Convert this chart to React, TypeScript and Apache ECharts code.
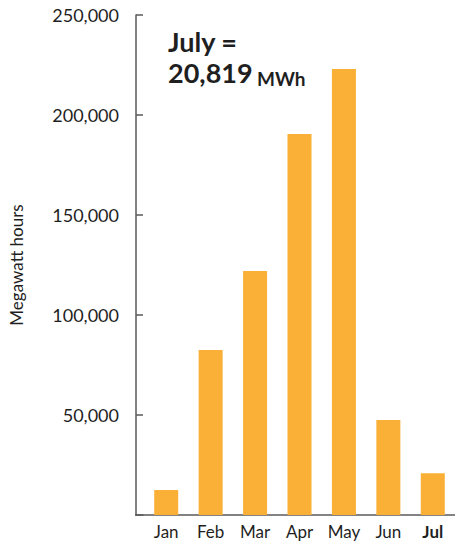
import React, { useEffect, useRef } from "react";
import * as echarts from "echarts";

const months = ["Jan", "Feb", "Mar", "Apr", "May", "Jun", "Jul"];
const megawattHours = [12500, 82500, 122000, 190500, 223000, 47500, 20819];
const yTicks = [0, 50000, 100000, 150000, 200000, 250000];
const titleLine1 = "July =";
const titleValue = "20,819";
const titleUnit = "MWh";

const FONT = "Lato, 'Noto Sans', sans-serif";
const AXIS_COLOR = "#5a5a5a";
const TEXT_COLOR = "#1f1f1f";
const BAR_COLOR = "#FAAF36";

export default function App() {
  const ref = useRef<HTMLDivElement>(null);
  useEffect(() => {
    if (!ref.current) return;
    const chart = echarts.init(ref.current, undefined, { renderer: "svg" });
    chart.setOption({
      animation: false,
      backgroundColor: "#ffffff",
      textStyle: { fontFamily: FONT },
      title: {
        left: 163,
        top: 21,
        text: `{a|${titleLine1}}\n{a|${titleValue}} {b|${titleUnit}}`,
        textStyle: {
          rich: {
            a: { fontFamily: FONT, fontSize: 27, fontWeight: "bold", color: TEXT_COLOR, lineHeight: 31 },
            b: { fontFamily: FONT, fontSize: 19, fontWeight: "bold", color: TEXT_COLOR, lineHeight: 29, verticalAlign: "bottom" },
          },
        },
      },
      grid: { left: 143, right: -12, top: 15, bottom: 26, containLabel: false },
      xAxis: {
        type: "category",
        data: months,
        axisLine: { show: true, lineStyle: { color: AXIS_COLOR, width: 1.5 } },
        axisTick: { show: false },
        axisLabel: {
          interval: 0,
          margin: 7,
          fontSize: 17,
          lineHeight: 18,
          fontFamily: FONT,
          color: TEXT_COLOR,
          formatter: (v: string) => (v === "Jul" ? `{b|${v}}` : v),
          rich: { b: { fontSize: 17, lineHeight: 18, fontWeight: "bold", fontFamily: FONT, color: TEXT_COLOR } },
        },
      },
      yAxis: {
        type: "value",
        min: yTicks[0],
        max: yTicks[yTicks.length - 1],
        interval: yTicks[1] - yTicks[0],
        offset: 8,
        name: "Megawatt hours",
        nameLocation: "middle",
        nameGap: 111,
        nameTextStyle: { fontSize: 17, fontFamily: FONT, color: TEXT_COLOR },
        splitLine: { show: false },
        axisLine: { show: true, lineStyle: { color: AXIS_COLOR, width: 1.5 } },
        axisTick: { show: true, inside: true, length: 7, lineStyle: { color: AXIS_COLOR, width: 1.5 } },
        axisLabel: {
          margin: 17,
          fontSize: 18,
          fontFamily: FONT,
          color: TEXT_COLOR,
          formatter: (v: number) => (v === 0 ? "" : v.toLocaleString("en-US")),
        },
      },
      graphic: [
        {
          type: "line",
          shape: { x1: 135, y1: 515, x2: 144, y2: 515 },
          style: { stroke: AXIS_COLOR, lineWidth: 1.5 },
        },
      ],
      series: [
        {
          type: "bar",
          data: megawattHours,
          barWidth: 24,
          itemStyle: { color: BAR_COLOR },
        },
      ],
    });
    return () => chart.dispose();
  }, []);
  return (
    <div
      ref={ref}
      style={{ position: "absolute", left: 0, top: 0, width: 455, height: 541 }}
    />
  );
}
